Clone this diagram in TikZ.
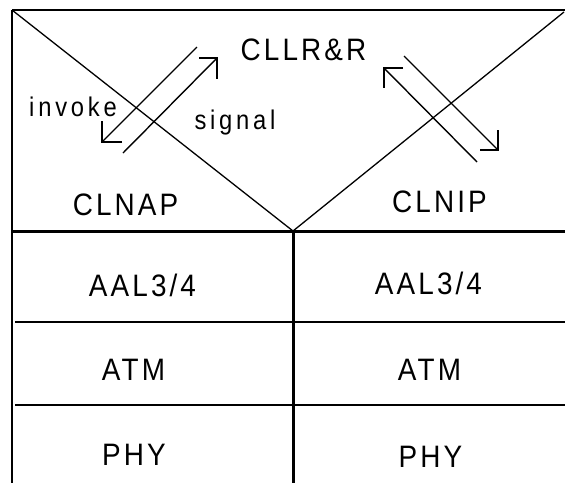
\documentclass[tikz,border=0pt]{standalone}
\usepackage{fontspec}
\setmainfont{Liberation Sans}
\newfontfamily\capfam[FakeStretch=0.9,LetterSpace=10]{Liberation Sans}
\newfontfamily\smallfam[FakeStretch=0.88,LetterSpace=14]{Liberation Sans}
\begin{document}
\begin{tikzpicture}[x=1pt,y=-1pt,
  lab/.style={anchor=base,inner sep=0pt,font=\capfam\fontsize{31}{31}\selectfont},
  slab/.style={anchor=base,inner sep=0pt,font=\smallfam\fontsize{27}{27}\selectfont},
  thin/.style={line width=1.3pt},
  frame/.style={line width=2pt},
  thick/.style={line width=3pt},
  body/.style={line width=1.4pt},
  head/.style={line width=2.6pt,line join=miter,line cap=butt}]
\useasboundingbox (0,0) rectangle (565,483);
% frame
\coordinate (tl) at (12,10);
\coordinate (tr) at (565,10);
\coordinate (tr2) at (564,12);
\coordinate (bl) at (12,483);
\coordinate (apex) at (293,231);
\coordinate (ml) at (12,231);
\coordinate (mr) at (565,231);
\coordinate (mb) at (293,483);
\coordinate (r1l) at (15,322);
\coordinate (r1r) at (565,322);
\coordinate (r2l) at (15,405);
\coordinate (r2r) at (565,405);
\draw[frame] (tl) -- (tr);
\draw[frame] (tl) -- (bl);
\draw[thin] (tl) -- (apex);
\draw[thin] (tr2) -- (apex);
\draw[thick] (ml) -- (mr);
\draw[thick] (apex) -- (mb);
\draw[frame] (r1l) -- (r1r);
\draw[frame] (r2l) -- (r2r);
% labels
\node[lab] (cllr) at (303.5,60) {CLLR\&R};
\node[lab] (clnap) at (125.5,215) {CLNAP};
\node[lab] (clnip) at (439.5,212) {CLNIP};
\node[slab] (invoke) at (73,116) {invoke};
\node[slab] (signal) at (235,129.5) {signal};
\node[lab] (aal1) at (142.5,296) {AAL3/4};
\node[lab] (aal2) at (428.5,294) {AAL3/4};
\node[lab] (atm1) at (133.5,380) {ATM};
\node[lab] (atm2) at (429.5,380) {ATM};
\node[lab] (phy1) at (134,465) {PHY};
\node[lab] (phy2) at (430.5,467) {PHY};
% arrows
\coordinate (a1s) at (197,47);  \coordinate (a1t) at (102,142);
\coordinate (a2s) at (123,153); \coordinate (a2t) at (217,58);
\coordinate (a3s) at (477,162); \coordinate (a3t) at (384,68);
\coordinate (a4s) at (404,56);  \coordinate (a4t) at (498,150);
\draw[body] (a1s) -- (a1t);
\draw[head] ([xshift=20pt]a1t) -- (a1t) -- ([yshift=21pt]a1t);
\draw[body] (a2s) -- (a2t);
\draw[head] ([xshift=-18pt]a2t) -- (a2t) -- ([yshift=-21pt]a2t);
\draw[body] (a3s) -- (a3t);
\draw[head] ([xshift=19pt]a3t) -- (a3t) -- ([yshift=-20pt]a3t);
\draw[body] (a4s) -- (a4t);
\draw[head] ([xshift=-18pt]a4t) -- (a4t) -- ([yshift=20pt]a4t);
\end{tikzpicture}
\end{document}
